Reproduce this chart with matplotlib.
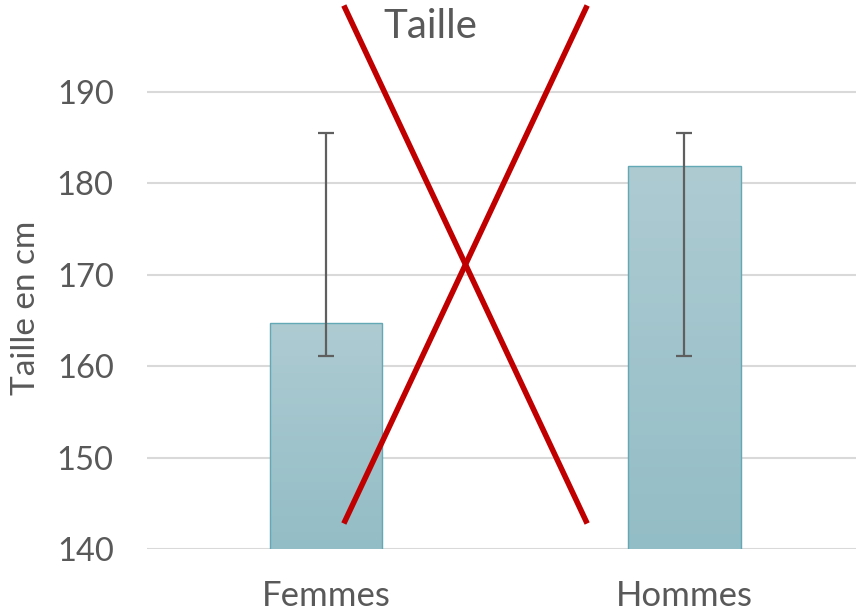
import matplotlib.pyplot as plt
import numpy as np
from matplotlib.colors import LinearSegmentedColormap
from matplotlib.lines import Line2D

categories = ['Femmes', 'Hommes']
moyennes = [164.7, 181.9]
err_bas = [3.6, 20.8]
err_haut = [20.8, 3.6]
y_ticks = [140, 150, 160, 170, 180, 190]

plt.rcParams['font.family'] = ['Lato', 'DejaVu Sans']
gris = '#595959'

fig = plt.figure(figsize=(8.56, 6.13), dpi=100)
ax = fig.add_axes([147 / 856, 64 / 613, 709 / 856, 509 / 613])

x = np.arange(len(categories))
largeur = 0.315
bars = ax.bar(x, moyennes, width=largeur, color='none', edgecolor='#62A8B5',
              linewidth=1.0, zorder=3)

# degrade vertical dans chaque barre
cmap = LinearSegmentedColormap.from_list('g', ['#93BDC6', '#AECBD2'])
grad = np.linspace(0, 1, 256).reshape(-1, 1)
for b in bars:
    x0, y0 = b.get_x(), b.get_y()
    im = ax.imshow(grad, cmap=cmap, aspect='auto', origin='lower',
                   extent=[x0, x0 + b.get_width(), 140, y0 + b.get_height()],
                   zorder=2)
    im.set_clip_path(b)

ax.errorbar(x, moyennes, yerr=[err_bas, err_haut], fmt='none', ecolor='#5F5F5F',
            elinewidth=1.6, capsize=6, capthick=1.6, zorder=4)

ax.set_xlim(-0.5, 1.48)
ax.set_ylim(140, 195.7)
ax.set_yticks(y_ticks)
ax.set_xticks(x)
ax.set_xticklabels(categories)
ax.yaxis.grid(True, color='#D9D9D9', linewidth=1.5, zorder=0)
ax.set_axisbelow(True)
for s in ax.spines.values():
    s.set_visible(False)
ax.tick_params(axis='y', length=0, labelsize=23.5, labelcolor=gris, pad=24)
ax.tick_params(axis='x', length=0, labelsize=25, labelcolor=gris, pad=22)
ax.set_ylabel('Taille en cm', fontsize=24, color=gris)
ax.yaxis.set_label_coords(-147 / 709 + 26 / 709, (549 - 308) / 509,
                          transform=ax.transAxes)
ax.yaxis.label.set_va('center')

fig.text(430 / 856, 1 - 26 / 613, 'Taille', fontsize=29, color=gris,
         ha='center', va='center')

# croix rouge par-dessus
rouge = '#C00000'
fig.add_artist(Line2D([345 / 856, 586 / 856], [1 - 8 / 613, 1 - 521 / 613],
                      color=rouge, linewidth=4.0, transform=fig.transFigure))
fig.add_artist(Line2D([586 / 856, 345 / 856], [1 - 8 / 613, 1 - 521 / 613],
                      color=rouge, linewidth=4.0, transform=fig.transFigure))

fig.savefig('out.png', dpi=100)
